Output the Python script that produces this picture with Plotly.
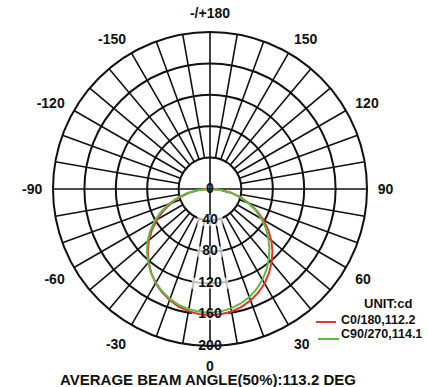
import plotly.graph_objects as go

# ---------------- data ----------------
beam_angles = [-90, -85, -80, -75, -70, -65, -60, -55, -50, -45, -40, -35, -30, -25, -20, -15, -10, -5,
               0, 5, 10, 15, 20, 25, 30, 35, 40, 45, 50, 55, 60, 65, 70, 75, 80, 85, 90]
c0_180 = [2, 13, 26.5, 39.5, 52.5, 65.5, 78, 90, 101.5, 112, 121.5, 130.5, 138.5, 145, 150.5, 155, 158, 160,
          161, 160, 158.5, 155.5, 151, 145.5, 139, 131, 122, 112.5, 102, 90.5, 78.5, 66, 53, 40, 27, 13.5, 2]
c90_270 = [3, 15, 29, 42.5, 56, 69, 81.5, 93, 104, 113.5, 122.5, 131, 138, 144, 149, 153, 155.5, 157,
           157.5, 156.5, 154.5, 151, 146.5, 140.5, 133.5, 125.5, 116.5, 107, 97, 86.5, 75.5, 64, 52, 39.5, 27, 13.5, 2]
series_names = ["C0/180,112.2", "C90/270,114.1"]

ring_values = [0, 40, 80, 120, 160, 200]
ring_labels = ["0", "40", "80", "120", "160", "200"]
angle_tick_vals = [180, -150, -120, -90, -60, -30, 0, 30, 60, 90, 120, 150]
angle_tick_text = ["-/+180", "-150", "-120", "-90", "-60", "-30", "0", "30", "60", "90", "120", "150"]
spoke_angles = list(range(0, 360, 10))
unit_text = "UNIT:cd"
footer_text = "AVERAGE BEAM ANGLE(50%):113.2 DEG"

# ---------------- style ----------------
W, H = 428, 387
CX, CY, R = 210, 189, 157
RMAX = 200
INNER = 40
FONT = "Liberation Sans, Arial, Helvetica, sans-serif"
RED = "#e8352b"
GREEN = "#62b846"
GRID = "#111111"
TXT = "#111111"


def px(x):
    return x / W


def py(y):
    return 1 - y / H


fig = go.Figure()

# spokes (every 10 deg from the inner circle; main axes through the centre)
sp_r, sp_t = [], []
for a in spoke_angles:
    start = 0 if a % 90 == 0 else INNER
    sp_r += [start, RMAX, None]
    sp_t += [a, a, None]
fig.add_trace(go.Scatterpolar(r=sp_r, theta=sp_t, mode="lines",
                              line=dict(color=GRID, width=1.6), hoverinfo="skip", showlegend=False))

# white knock-out behind the ring value labels (below the curves)
fig.add_trace(go.Scatterpolar(r=ring_values[1:], theta=[0] * (len(ring_values) - 1), mode="markers",
                              marker=dict(symbol="line-ew", size=[8 * len(t) + 2 for t in ring_labels[1:]],
                                          line=dict(color="white", width=11)),
                              cliponaxis=False, hoverinfo="skip", showlegend=False))

# intensity curves
fig.add_trace(go.Scatterpolar(r=c0_180, theta=beam_angles, mode="lines", name=series_names[0],
                              line=dict(color=RED, width=2), showlegend=False))
fig.add_trace(go.Scatterpolar(r=c90_270, theta=beam_angles, mode="lines", name=series_names[1],
                              line=dict(color=GREEN, width=2), showlegend=False))

# ring value labels along the 0 deg direction
fig.add_trace(go.Scatterpolar(r=ring_values, theta=[0] * len(ring_values), mode="text",
                              text=ring_labels, textposition="middle center",
                              textfont=dict(family=FONT, size=14, color=TXT, weight="bold"),
                              cliponaxis=False, hoverinfo="skip", showlegend=False))

fig.update_layout(
    width=W, height=H,
    margin=dict(l=0, r=0, t=0, b=0),
    paper_bgcolor="white",
    polar=dict(
        domain=dict(x=[px(CX - R), px(CX + R)], y=[py(CY + R), py(CY - R)]),
        bgcolor="white",
        radialaxis=dict(range=[0, RMAX], tickvals=ring_values[1:-1], showticklabels=False,
                        ticks="", showline=False, showgrid=True, gridcolor=GRID, gridwidth=1.6),
        angularaxis=dict(rotation=-90, direction="counterclockwise", showgrid=False,
                         tickmode="array", tickvals=[t % 360 for t in angle_tick_vals], ticktext=angle_tick_text,
                         showticklabels=True, ticks="outside", ticklen=7, tickcolor="rgba(0,0,0,0)",
                         tickfont=dict(family=FONT, size=14, color=TXT, weight="bold"),
                         showline=True, linecolor=GRID, linewidth=2),
    ),
    showlegend=False,
)

# legend block
fig.add_annotation(x=px(388), y=py(303), xref="paper", yref="paper", text=unit_text, showarrow=False,
                   xanchor="center", yanchor="middle", font=dict(family=FONT, size=13, color=TXT, weight="bold"))
fig.add_annotation(x=px(339), y=py(320), xref="paper", yref="paper", text=series_names[0], showarrow=False,
                   xanchor="left", yanchor="middle", font=dict(family=FONT, size=12.5, color=TXT, weight="bold"))
fig.add_annotation(x=px(339), y=py(334), xref="paper", yref="paper", text=series_names[1], showarrow=False,
                   xanchor="left", yanchor="middle", font=dict(family=FONT, size=12.5, color=TXT, weight="bold"))
fig.add_shape(type="line", xref="paper", yref="paper", x0=px(316), x1=px(336), y0=py(322), y1=py(322),
              line=dict(color=RED, width=2))
fig.add_shape(type="line", xref="paper", yref="paper", x0=px(318), x1=px(339), y0=py(339), y1=py(339),
              line=dict(color=GREEN, width=2))

# footer
fig.add_annotation(x=px(208), y=py(379), xref="paper", yref="paper", text=footer_text, showarrow=False,
                   xanchor="center", yanchor="middle", font=dict(family=FONT, size=15, color=TXT, weight="bold"))

fig.write_html("out.html", config={"displayModeBar": False},
               post_script="document.body.style.margin='0';document.body.style.overflow='hidden';")
